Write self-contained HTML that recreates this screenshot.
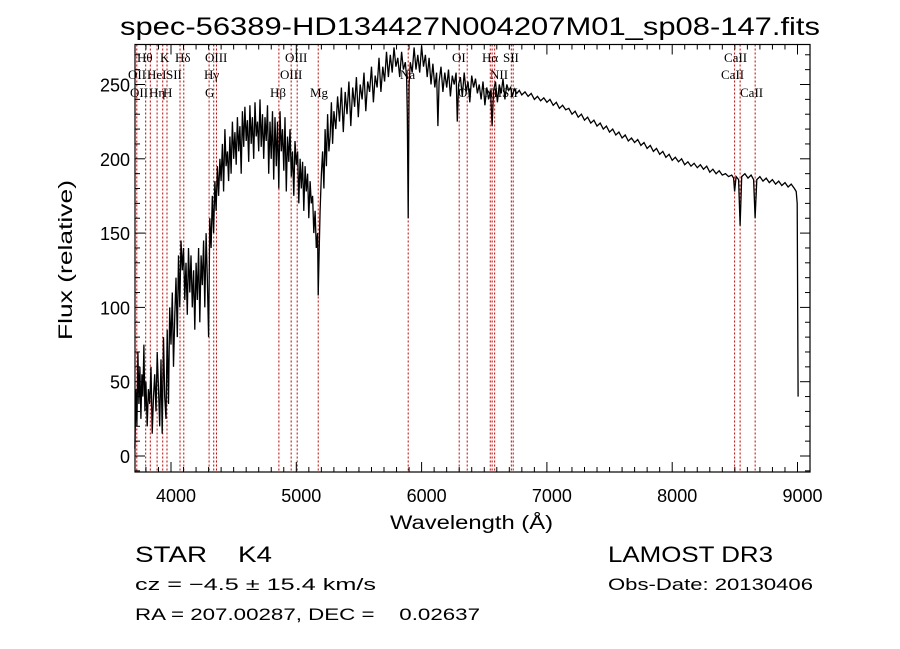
<!DOCTYPE html>
<html><head><meta charset="utf-8">
<style>
html,body{margin:0;padding:0;background:#fff;}
svg{display:block;}
text{font-family:"Liberation Sans",sans-serif;fill:#000;}
.lab{font-family:"Liberation Serif",serif;font-size:13px;}
</style></head>
<body>
<svg id="chart" width="900" height="649" viewBox="0 0 900 649" xmlns="http://www.w3.org/2000/svg">
<rect x="0" y="0" width="900" height="649" fill="#fff"/>
<text x="120" y="35" font-size="25" textLength="700" lengthAdjust="spacingAndGlyphs">spec-56389-HD134427N004207M01_sp08-147.fits</text>
<g id="lines"></g>
<g id="ticks"></g>
<path id="spec" fill="none" stroke="#000" stroke-width="1.3"/>
<rect x="135" y="44.5" width="675" height="427.5" fill="none" stroke="#000" stroke-width="1.2"/>
<g id="labels"></g>
<text x="390" y="529" font-size="19" textLength="163" lengthAdjust="spacingAndGlyphs">Wavelength (Å)</text>
<text transform="translate(72,340) rotate(-90)" font-size="19" textLength="160" lengthAdjust="spacingAndGlyphs">Flux (relative)</text>
<text x="135" y="562" font-size="22" textLength="137" lengthAdjust="spacingAndGlyphs" xml:space="preserve">STAR    K4</text>
<text x="608" y="562" font-size="22" textLength="165" lengthAdjust="spacingAndGlyphs">LAMOST DR3</text>
<text x="135" y="590" font-size="17" textLength="241" lengthAdjust="spacingAndGlyphs">cz = −4.5 ± 15.4 km/s</text>
<text x="608" y="590" font-size="17" textLength="205" lengthAdjust="spacingAndGlyphs">Obs-Date: 20130406</text>
<text x="135" y="620" font-size="17" textLength="345" lengthAdjust="spacingAndGlyphs" xml:space="preserve">RA = 207.00287, DEC =    0.02637</text>
</svg>
<script>
const wave = [
3712,3720,3728,3736,3744,3752,3760,3768,3776,3784,
3792,3800,3810,3820,3830,3840,3850,3860,3870,3880,
3890,3900,3910,3920,3930,3940,3950,3960,3970,3980,
3990,4000,4010,4020,4030,4040,4050,4060,4070,4080,
4090,4100,4110,4120,4130,4140,4150,4160,4170,4180,
4190,4200,4210,4220,4230,4240,4250,4260,4270,4280,
4290,4300,4310,4320,4330,4340,4350,4360,4370,4380,
4390,4400,4410,4420,4430,4440,4450,4460,4470,4480,
4490,4500,4510,4520,4530,4540,4550,4560,4570,4580,
4590,4600,4610,4620,4630,4640,4650,4660,4670,4680,
4690,4700,4710,4720,4730,4740,4750,4760,4770,4780,
4790,4800,4810,4820,4830,4840,4850,4860,4870,4880,
4890,4900,4910,4920,4930,4940,4950,4960,4970,4980,
4990,5000,5010,5020,5030,5040,5050,5060,5070,5080,
5090,5100,5110,5120,5130,5140,5150,5160,5170,5175,
5180,5190,5200,5210,5220,5230,5240,5250,5260,5270,
5280,5290,5300,5315,5330,5345,5360,5375,5390,5405,
5420,5435,5450,5465,5480,5495,5510,5525,5540,5555,
5570,5585,5600,5615,5630,5645,5660,5675,5690,5705,
5720,5735,5750,5765,5780,5795,5810,5825,5840,5855,
5870,5880,5886,5893,5900,5910,5925,5940,5955,5970,
5985,6000,6015,6030,6045,6060,6075,6090,6105,6120,
6130,6140,6155,6170,6185,6200,6215,6230,6245,6260,
6275,6285,6295,6310,6325,6340,6355,6370,6385,6400,
6415,6430,6445,6460,6475,6490,6505,6520,6535,6550,
6563,6575,6590,6605,6620,6635,6650,6665,6680,6695,
6710,6725,6740,6760,6780,6800,6825,6850,6875,6900,
6925,6950,6975,7000,7025,7050,7075,7100,7125,7150,
7175,7200,7225,7250,7275,7300,7325,7350,7375,7400,
7425,7450,7475,7500,7525,7550,7575,7600,7625,7650,
7675,7700,7725,7750,7775,7800,7825,7850,7875,7900,
7925,7950,7975,8000,8025,8050,8075,8100,8125,8150,
8175,8200,8225,8250,8275,8300,8325,8350,8375,8400,
8425,8450,8475,8490,8498,8510,8530,8542,8555,8580,
8605,8630,8650,8662,8675,8700,8725,8750,8775,8800,
8825,8850,8875,8900,8925,8950,8975,8990,8998,9005];
const flux = [
5,45,20,70,35,60,25,55,40,75,
30,50,20,45,35,60,15,40,55,30,
70,45,20,65,15,80,40,25,85,35,
100,75,110,60,95,120,80,135,100,145,
125,140,105,130,95,140,110,135,100,125,
85,130,105,140,90,135,115,145,100,150,
120,80,160,140,175,150,185,165,195,175,
200,185,210,178,220,195,205,185,215,190,
225,200,218,196,228,205,222,190,232,208,
235,212,226,198,236,210,228,200,238,215,
225,205,240,208,230,200,228,212,236,190,
225,200,232,186,228,195,225,180,232,205,
220,192,228,178,215,198,220,188,205,175,
212,196,205,170,200,180,198,165,195,178,
190,160,185,170,175,150,165,140,150,108,
130,165,190,205,180,220,195,230,205,215,
238,210,232,220,242,225,248,218,245,230,
252,222,248,235,255,228,250,240,258,232,
252,245,262,238,256,248,268,245,262,252,
272,255,270,258,275,262,268,255,272,260,
265,255,230,160,250,265,258,275,260,270,
258,276,262,270,255,268,250,264,248,258,
222,252,262,245,258,248,260,242,256,250,
258,225,250,255,242,258,245,252,238,256,
248,254,244,250,240,252,236,248,240,246,
222,246,252,238,250,244,254,240,250,246,
248,242,247,244,246,243,245,242,244,240,
242,239,241,238,240,236,238,234,236,233,
234,230,232,228,230,226,228,224,226,222,
224,220,222,218,220,216,218,214,216,212,
214,211,213,209,211,207,209,205,207,203,
205,201,203,199,201,198,200,196,198,195,
197,194,196,193,195,191,193,190,192,189,
190,188,189,187,178,188,186,155,188,190,
187,189,186,160,186,188,185,187,184,186,
183,185,182,184,181,183,180,178,170,40];
const lineWaves = [3727,3798,3835,3889,3934,3968,4072,4102,4304,4341,4363,4861,4959,5007,5175,5893,6300,6364,6548,6563,6583,6716,6731,8498,8542,8662];
const xTickLabels = [4000,5000,6000,7000,8000,9000];
const yTickLabels = [0,50,100,150,200,250];
const lineLabels = [
 ["Hθ",137,62],["K",160,62],["Hδ",175,62],["OIII",205,62],["OIII",285,62],["OI",452,62],["Hα",482,62],["SII",503,62],["CaII",724,62],
 ["OII",128,79],["HeI",147,79],["SII",166,79],["Hγ",204,79],["OIII",280,79],["Na",400,79],["NII",490,79],["CaII",721,79],
 ["OII",130,97],["Hη",149,97],["H",163,97],["G",205,97],["Hβ",270,97],["Mg",310,97],["OI",458,97],["NII",484,97],["SII",502,97],["CaII",740,97]
];
const X0=135,X1=810,Y0=44.5,Y1=472;
function xs(w){return 171+(w-4000)*0.1253;}
function ys(f){return 456-f*1.486;}
const NS="http://www.w3.org/2000/svg";
function mk(tag,attrs,parent){const e=document.createElementNS(NS,tag);for(const k in attrs)e.setAttribute(k,attrs[k]);parent.appendChild(e);return e;}
const lg=document.getElementById('lines');
lineWaves.forEach(w=>{
 const l=mk('line',{x1:xs(w),x2:xs(w),y1:Y0,y2:Y1,stroke:'#c00000','stroke-width':1,'stroke-dasharray':'2,2'},lg);
 
 
});
const tg=document.getElementById('ticks');
const svg=document.getElementById('chart');
for(let w=3800;w<=9100;w+=100){
 const major=w%1000===0;const len=major?10:5;const x=xs(w);
 const t1=mk('line',{x1:x,x2:x,y1:Y1,y2:Y1-len,stroke:'#000','stroke-width':1},tg);
 
 
 const t2=mk('line',{x1:x,x2:x,y1:Y0,y2:Y0+len,stroke:'#000','stroke-width':1},tg);
 
 
}
xTickLabels.forEach(v=>{
 const t=mk('text',{x:xs(v)+5,y:502,'font-size':18,'text-anchor':'middle'},svg);
 
 
 t.textContent=v;
});
for(let f=-10;f<=270;f+=10){
 const major=f%50===0;const len=major?10:5;const y=ys(f);
 const t1=mk('line',{x1:X0,x2:X0+len,y1:y,y2:y,stroke:'#000','stroke-width':1},tg);
 
 
 const t2=mk('line',{x1:X1,x2:X1-len,y1:y,y2:y,stroke:'#000','stroke-width':1},tg);
 
 
}
yTickLabels.forEach(v=>{
 const t=mk('text',{x:130,y:ys(v)+7,'font-size':18,'text-anchor':'end'},svg);
 
 
 t.textContent=v;
});
let d='';
const n=Math.min(wave.length,flux.length);
for(let i=0;i<n;i++){let y=Math.max(Y0,Math.min(Y1,ys(flux[i])));d+=(i?'L':'M')+xs(wave[i]).toFixed(1)+','+y.toFixed(1);}
document.getElementById('spec').setAttribute('d',d);
const lb=document.getElementById('labels');
lineLabels.forEach(a=>{
 const t=mk('text',{x:a[1],y:a[2],class:'lab'},lb);
 
 
 t.textContent=a[0];
});
</script>
</body></html>
